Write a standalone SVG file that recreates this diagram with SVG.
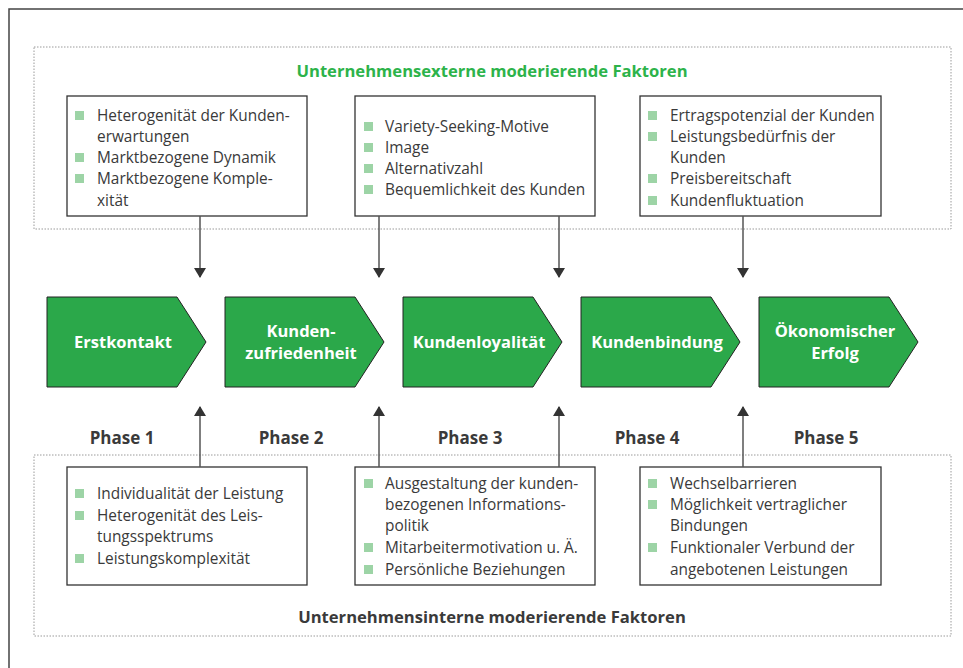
<svg xmlns="http://www.w3.org/2000/svg" width="963" height="668" viewBox="0 0 963 668">
<defs>
<style>
.frame{fill:none;stroke:#444;stroke-width:1.5}
.dot{fill:none;stroke:#9a9a9a;stroke-width:1;stroke-dasharray:1.5,1.5}
.box{fill:#fff;stroke:#333;stroke-width:1.3}
.chev{fill:#2ba84a;stroke:#222;stroke-width:1}
.ct{font-family:"Open Sans",Lato,sans-serif;font-weight:bold;font-size:16.5px;fill:#fff;text-anchor:middle}
.bt{font-family:"Open Sans",Lato,sans-serif;font-size:15.4px;fill:#3a3a3a}
.bul{fill:#9dd4a6}
.ph{font-family:"Open Sans",Lato,sans-serif;font-weight:bold;font-size:17px;fill:#3a3a3a;text-anchor:middle}
.tt{font-family:"Open Sans",Lato,sans-serif;font-weight:bold;font-size:16.6px;text-anchor:middle}
.conn{stroke:#555;stroke-width:1.5;fill:none}
</style>
<marker id="ah" viewBox="0 0 10 12" refX="9" refY="6" markerWidth="10" markerHeight="12" markerUnits="userSpaceOnUse" orient="auto">
<path d="M0,0 L10,6 L0,12 Z" fill="#333"/>
</marker>
</defs>
<rect width="963" height="668" fill="#fff"/>
<path class="frame" d="M9,668 V9 H963"/>

<g id="external">
<rect class="dot" x="34" y="47" width="917" height="182"/>
<text class="tt" x="492" y="77" fill="#2db34a">Unternehmensexterne moderierende Faktoren</text>
</g>
<g id="internal">
<rect class="dot" x="34" y="455" width="917" height="181"/>
<text class="tt" x="492" y="623" fill="#3a3a3a">Unternehmensinterne moderierende Faktoren</text>
</g>

<g id="top1">
<rect class="box" x="67" y="96" width="240" height="120"/>
<rect class="bul" x="75" y="111" width="9" height="9"/>
<rect class="bul" x="75" y="153" width="9" height="9"/>
<rect class="bul" x="75" y="174" width="9" height="9"/>
<text class="bt" x="97" y="121">Heterogenität der Kunden-</text>
<text class="bt" x="97" y="142">erwartungen</text>
<text class="bt" x="97" y="163">Marktbezogene Dynamik</text>
<text class="bt" x="97" y="184">Marktbezogene Komple-</text>
<text class="bt" x="97" y="206">xität</text>
</g>
<g id="top2">
<rect class="box" x="355" y="96" width="240" height="120"/>
<rect class="bul" x="364" y="122" width="9" height="9"/>
<rect class="bul" x="364" y="143" width="9" height="9"/>
<rect class="bul" x="364" y="164" width="9" height="9"/>
<rect class="bul" x="364" y="185" width="9" height="9"/>
<text class="bt" x="385" y="132">Variety-Seeking-Motive</text>
<text class="bt" x="385" y="153">Image</text>
<text class="bt" x="385" y="174">Alternativzahl</text>
<text class="bt" x="385" y="195">Bequemlichkeit des Kunden</text>
</g>
<g id="top3">
<rect class="box" x="640" y="96" width="241" height="120"/>
<rect class="bul" x="648" y="111" width="9" height="9"/>
<rect class="bul" x="648" y="132" width="9" height="9"/>
<rect class="bul" x="648" y="174" width="9" height="9"/>
<rect class="bul" x="648" y="196" width="9" height="9"/>
<text class="bt" x="670" y="121">Ertragspotenzial der Kunden</text>
<text class="bt" x="670" y="142">Leistungsbedürfnis der</text>
<text class="bt" x="670" y="163">Kunden</text>
<text class="bt" x="670" y="184">Preisbereitschaft</text>
<text class="bt" x="670" y="206">Kundenfluktuation</text>
</g>

<g id="bot1">
<rect class="box" x="67" y="467" width="240" height="118"/>
<rect class="bul" x="75" y="489" width="9" height="9"/>
<rect class="bul" x="75" y="511" width="9" height="9"/>
<rect class="bul" x="75" y="554" width="9" height="9"/>
<text class="bt" x="97" y="499">Individualität der Leistung</text>
<text class="bt" x="97" y="521">Heterogenität des Leis-</text>
<text class="bt" x="97" y="542">tungsspektrums</text>
<text class="bt" x="97" y="564">Leistungskomplexität</text>
</g>
<g id="bot2">
<rect class="box" x="355" y="467" width="240" height="118"/>
<rect class="bul" x="364" y="479" width="9" height="9"/>
<rect class="bul" x="364" y="543" width="9" height="9"/>
<rect class="bul" x="364" y="565" width="9" height="9"/>
<text class="bt" x="385" y="489">Ausgestaltung der kunden-</text>
<text class="bt" x="385" y="510">bezogenen Informations-</text>
<text class="bt" x="385" y="531">politik</text>
<text class="bt" x="385" y="553">Mitarbeitermotivation u. Ä.</text>
<text class="bt" x="385" y="575">Persönliche Beziehungen</text>
</g>
<g id="bot3">
<rect class="box" x="640" y="467" width="241" height="118"/>
<rect class="bul" x="648" y="479" width="9" height="9"/>
<rect class="bul" x="648" y="500" width="9" height="9"/>
<rect class="bul" x="648" y="543" width="9" height="9"/>
<text class="bt" x="670" y="489">Wechselbarrieren</text>
<text class="bt" x="670" y="510">Möglichkeit vertraglicher</text>
<text class="bt" x="670" y="531">Bindungen</text>
<text class="bt" x="670" y="553">Funktionaler Verbund der</text>
<text class="bt" x="670" y="575">angebotenen Leistungen</text>
</g>

<g id="phase1">
<path class="chev" d="M47,297 H177 L206,342 L177,387 H47 Z"/>
<text class="ct" x="123" y="348">Erstkontakt</text>
</g>
<g id="phase2">
<path class="chev" d="M225,297 H355 L384,342 L355,387 H225 Z"/>
<text class="ct" x="301" y="337">Kunden-</text>
<text class="ct" x="301" y="359">zufriedenheit</text>
</g>
<g id="phase3">
<path class="chev" d="M403,297 H533 L562,342 L533,387 H403 Z"/>
<text class="ct" x="479" y="348">Kundenloyalität</text>
</g>
<g id="phase4">
<path class="chev" d="M581,297 H711 L740,342 L711,387 H581 Z"/>
<text class="ct" x="657" y="348">Kundenbindung</text>
</g>
<g id="phase5">
<path class="chev" d="M759,297 H889 L918,342 L889,387 H759 Z"/>
<text class="ct" x="835" y="337">Ökonomischer</text>
<text class="ct" x="835" y="359">Erfolg</text>
</g>

<g id="phase-labels">
<text class="ph" x="122" y="444">Phase 1</text>
<text class="ph" x="291" y="444">Phase 2</text>
<text class="ph" x="470" y="444">Phase 3</text>
<text class="ph" x="647" y="444">Phase 4</text>
<text class="ph" x="826" y="444">Phase 5</text>
</g>

<g id="connectors">
<line class="conn" x1="200" y1="216" x2="200" y2="277" marker-end="url(#ah)"/>
<line class="conn" x1="379" y1="216" x2="379" y2="277" marker-end="url(#ah)"/>
<line class="conn" x1="559" y1="216" x2="559" y2="277" marker-end="url(#ah)"/>
<line class="conn" x1="743" y1="216" x2="743" y2="277" marker-end="url(#ah)"/>
<line class="conn" x1="200" y1="467" x2="200" y2="407" marker-end="url(#ah)"/>
<line class="conn" x1="379" y1="467" x2="379" y2="407" marker-end="url(#ah)"/>
<line class="conn" x1="559" y1="467" x2="559" y2="407" marker-end="url(#ah)"/>
<line class="conn" x1="743" y1="467" x2="743" y2="407" marker-end="url(#ah)"/>
</g>
</svg>
